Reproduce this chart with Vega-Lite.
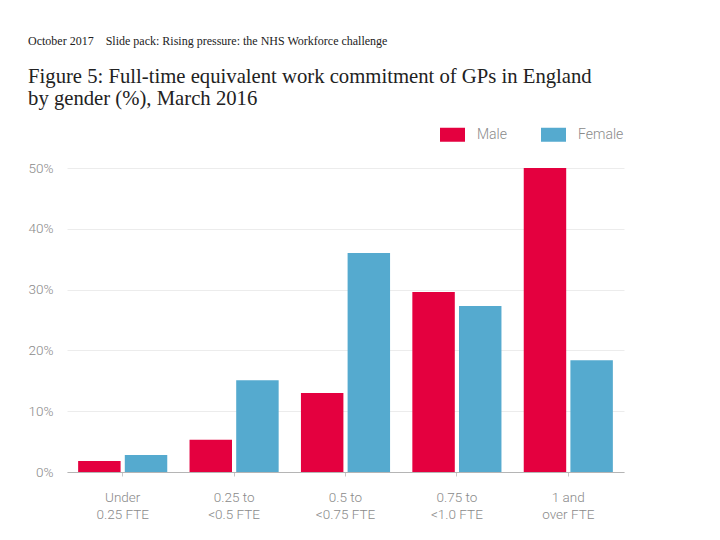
{
  "$schema": "https://vega.github.io/schema/vega-lite/v6.json",
  "width": 557,
  "height": 304,
  "padding": {"left": 28, "top": 35, "right": 10, "bottom": 10},
  "background": "white",
  "title": {
    "text": "October 2017\u00a0\u00a0\u00a0\u00a0Slide pack: Rising pressure: the NHS Workforce challenge",
    "subtitle": ["Figure 5: Full-time equivalent work commitment of GPs in England", "by gender (%), March 2016"],
    "anchor": "start",
    "font": "Liberation Serif",
    "fontSize": 12,
    "fontWeight": "normal",
    "color": "#222222",
    "subtitleFont": "Liberation Serif",
    "subtitleFontSize": 20.7,
    "subtitleColor": "#222222",
    "subtitleLineHeight": 22,
    "subtitlePadding": 19,
    "offset": 12
  },
  "data": {
    "values": [
      {"band": "Under 0.25 FTE", "gender": "Male", "pct": 1.8},
      {"band": "Under 0.25 FTE", "gender": "Female", "pct": 2.8},
      {"band": "0.25 to <0.5 FTE", "gender": "Male", "pct": 5.3},
      {"band": "0.25 to <0.5 FTE", "gender": "Female", "pct": 15.1},
      {"band": "0.5 to <0.75 FTE", "gender": "Male", "pct": 13.0},
      {"band": "0.5 to <0.75 FTE", "gender": "Female", "pct": 36.0},
      {"band": "0.75 to <1.0 FTE", "gender": "Male", "pct": 29.6},
      {"band": "0.75 to <1.0 FTE", "gender": "Female", "pct": 27.3},
      {"band": "1 and over FTE", "gender": "Male", "pct": 50.0},
      {"band": "1 and over FTE", "gender": "Female", "pct": 18.4}
    ]
  },
  "mark": {"type": "bar"},
  "encoding": {
    "x": {
      "field": "band",
      "type": "nominal",
      "sort": ["Under 0.25 FTE", "0.25 to <0.5 FTE", "0.5 to <0.75 FTE", "0.75 to <1.0 FTE", "1 and over FTE"],
      "scale": {"paddingInner": 0.2, "paddingOuter": 0.1},
      "axis": {
        "title": null,
        "labelAngle": 0,
        "labelExpr": "datum.label == 'Under 0.25 FTE' ? ['Under', '0.25 FTE'] : datum.label == '0.25 to <0.5 FTE' ? ['0.25 to', '<0.5 FTE'] : datum.label == '0.5 to <0.75 FTE' ? ['0.5 to', '<0.75 FTE'] : datum.label == '0.75 to <1.0 FTE' ? ['0.75 to', '<1.0 FTE'] : ['1 and', 'over FTE']",
        "labelLineHeight": 17,
        "labelPadding": 14,
        "labelFont": "Roboto",
        "labelFontSize": 13.5,
        "labelFontWeight": 300,
        "labelColor": "#8a8a8a",
        "domainColor": "#b5b5b5",
        "tickColor": "#c8c8c8",
        "tickSize": 4,
        "grid": false
      }
    },
    "xOffset": {
      "field": "gender",
      "sort": ["Male", "Female"],
      "scale": {"paddingInner": 0.09}
    },
    "y": {
      "field": "pct",
      "type": "quantitative",
      "scale": {"domain": [0, 50]},
      "axis": {
        "title": null,
        "values": [0, 10, 20, 30, 40, 50],
        "labelExpr": "datum.value + '%'",
        "labelFont": "Roboto",
        "labelFontSize": 13.5,
        "labelFontWeight": 300,
        "labelColor": "#8a8a8a",
        "labelPadding": 14,
        "domain": false,
        "ticks": false,
        "gridColor": "#ececec"
      }
    },
    "color": {
      "field": "gender",
      "type": "nominal",
      "sort": ["Male", "Female"],
      "scale": {"domain": ["Male", "Female"], "range": ["#e4003f", "#55aacf"]},
      "legend": {
        "title": null,
        "orient": "top",
        "direction": "horizontal",
        "symbolType": "M-1,-0.56H1V0.56H-1Z",
        "symbolSize": 625,
        "symbolStrokeWidth": 0,
        "symbolOpacity": 1,
        "labelFont": "Roboto",
        "labelFontSize": 14,
        "labelFontWeight": 300,
        "labelColor": "#8a8a8a",
        "labelOffset": 12,
        "columnPadding": 33,
        "offset": 26
      }
    }
  },
  "config": {
    "view": {"stroke": null},
    "legend": {"layout": {"top": {"anchor": "end"}}}
  }
}
